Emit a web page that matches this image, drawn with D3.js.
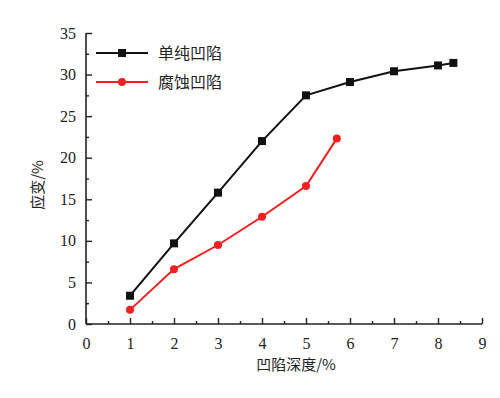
<!DOCTYPE html>
<html>
<head>
<meta charset="utf-8">
<script src="https://cdn.jsdelivr.net/npm/d3@7"></script>
<style>
  body { margin: 0; background: #fff; }
</style>
</head>
<body>
<svg id="chart" width="500" height="398"></svg>
<script>
// data
const simpleDepth = [1, 2, 3, 4, 5, 6, 7, 8, 8.35];
const simpleStrain = [3.4, 9.7, 15.8, 22.0, 27.5, 29.1, 30.4, 31.1, 31.4];
const corrodedDepth = [1, 2, 3, 4, 5, 5.7];
const corrodedStrain = [1.7, 6.6, 9.5, 12.9, 16.6, 22.3];
const seriesNames = ["单纯凹陷", "腐蚀凹陷"];
const xTicks = [0, 1, 2, 3, 4, 5, 6, 7, 8, 9];
const yTicks = [0, 5, 10, 15, 20, 25, 30, 35];

const svg = d3.select("#chart");
const x = d3.scaleLinear().domain([0, 9]).range([86, 482]);
const y = d3.scaleLinear().domain([0, 35]).range([324, 33]);

// axes, ticks pointing inward
const xAxis = svg.append("g").attr("transform", `translate(0,${y(0)})`)
  .call(d3.axisBottom(x).tickValues(xTicks).tickSize(-6).tickPadding(14));
const yAxis = svg.append("g").attr("transform", `translate(${x(0)},0)`)
  .call(d3.axisLeft(y).tickValues(yTicks).tickSize(-6).tickPadding(10));

// minor ticks
svg.append("g").attr("transform", `translate(0,${y(0)})`)
  .call(d3.axisBottom(x).tickValues(d3.range(0.5, 9, 1)).tickSize(-3).tickFormat(""))
  .call(g => g.select(".domain").remove());
svg.append("g").attr("transform", `translate(${x(0)},0)`)
  .call(d3.axisLeft(y).tickValues(d3.range(2.5, 35, 5)).tickSize(-3).tickFormat(""))
  .call(g => g.select(".domain").remove());

svg.selectAll(".domain").attr("stroke", "#222").attr("stroke-width", 1.6);
svg.selectAll(".tick line").attr("stroke", "#222").attr("stroke-width", 1.4);
svg.selectAll(".tick text").style("font-size", "16px").attr("fill", "#222")
  .style("font-family", "'Liberation Serif', 'DejaVu Serif', serif");
xAxis.select(".domain").attr("d", `M${x(0)},0H${x(9)}`);
yAxis.select(".domain").attr("d", `M0,${y(0)}V${y(35)}`);

const line = d3.line().x(d => x(d[0])).y(d => y(d[1]));
const simple = d3.zip(simpleDepth, simpleStrain);
const corroded = d3.zip(corrodedDepth, corrodedStrain);

svg.append("path").datum(simple).attr("d", line)
  .attr("fill", "none").attr("stroke", "#111").attr("stroke-width", 2);
svg.append("g").selectAll("rect").data(simple).join("rect")
  .attr("x", d => x(d[0]) - 4).attr("y", d => y(d[1]) - 4)
  .attr("width", 8).attr("height", 8).attr("fill", "#111");

svg.append("path").datum(corroded).attr("d", line)
  .attr("fill", "none").attr("stroke", "#f02020").attr("stroke-width", 2);
svg.append("g").selectAll("circle").data(corroded).join("circle")
  .attr("cx", d => x(d[0])).attr("cy", d => y(d[1])).attr("r", 4)
  .attr("fill", "#f02020");

// legend
const legend = svg.append("g");
const legendRows = [
  { name: seriesNames[0], color: "#111", shape: "rect", yy: 53 },
  { name: seriesNames[1], color: "#f02020", shape: "circle", yy: 82 }
];
legendRows.forEach(r => {
  legend.append("line").attr("x1", 96).attr("x2", 148)
    .attr("y1", r.yy).attr("y2", r.yy)
    .attr("stroke", r.color).attr("stroke-width", 2);
  if (r.shape === "rect") {
    legend.append("rect").attr("x", 118).attr("y", r.yy - 4)
      .attr("width", 8).attr("height", 8).attr("fill", r.color);
  } else {
    legend.append("circle").attr("cx", 122).attr("cy", r.yy).attr("r", 4)
      .attr("fill", r.color);
  }
  legend.append("text").attr("x", 158).attr("y", r.yy + 6)
    .style("font-size", "16px").attr("fill", "#222")
    .style("font-family", "'Noto Sans CJK SC', sans-serif")
    .text(r.name);
});

// axis titles
svg.append("text").attr("x", 296).attr("y", 370)
  .attr("text-anchor", "middle").style("font-size", "15px").attr("fill", "#222")
  .style("font-family", "'Noto Sans CJK SC', sans-serif")
  .text("凹陷深度/%");
svg.append("text").attr("transform", "translate(43,185) rotate(-90)")
  .attr("text-anchor", "middle").style("font-size", "15px").attr("fill", "#222")
  .style("font-family", "'Noto Sans CJK SC', sans-serif")
  .text("应变/%");
</script>
</body>
</html>
